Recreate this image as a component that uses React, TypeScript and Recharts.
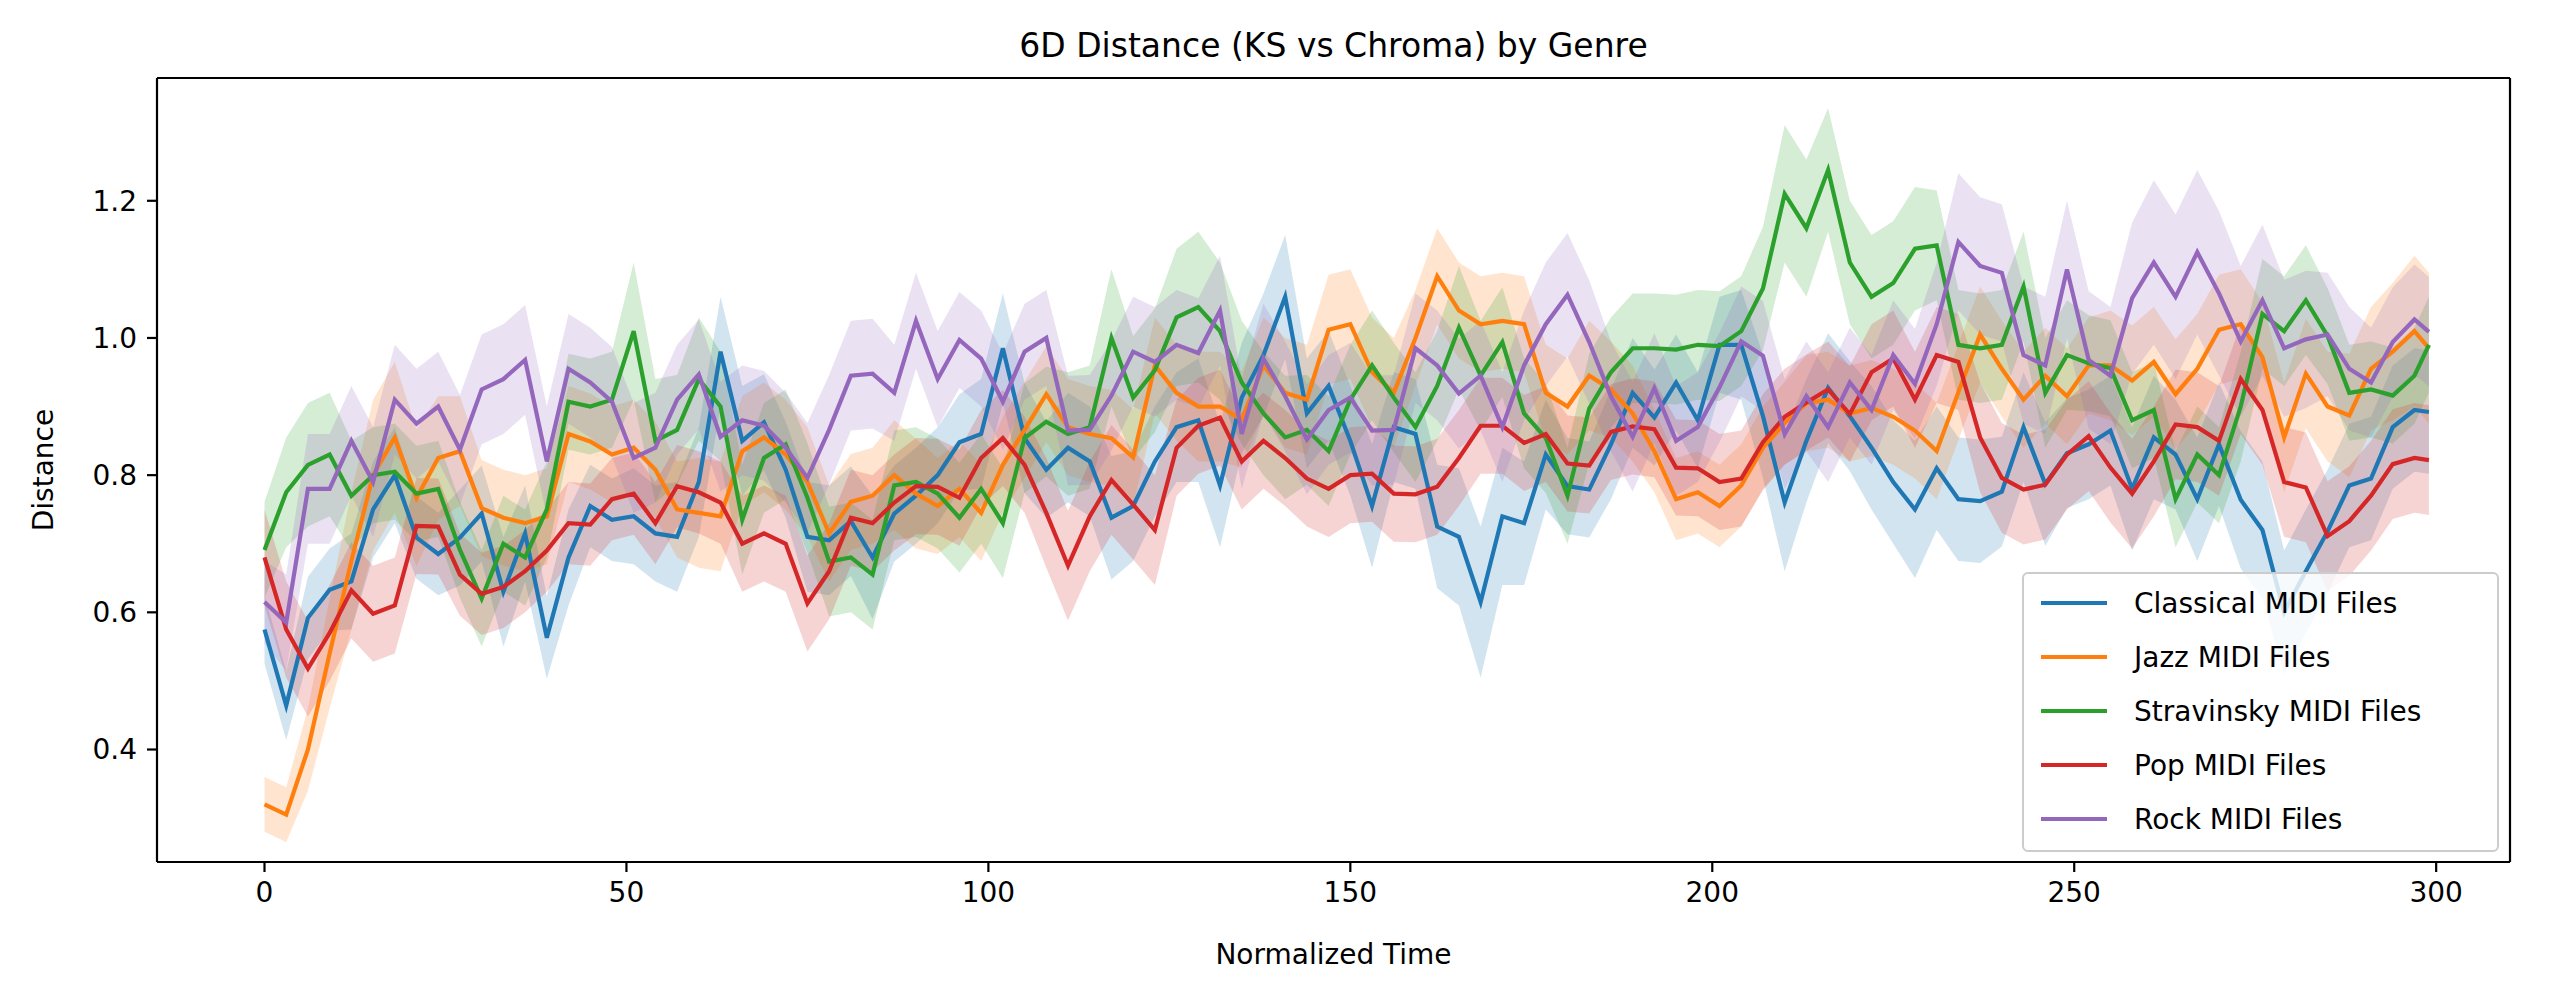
import React from 'react';
import { ComposedChart, Line, Area, XAxis, YAxis } from 'recharts';

// sampled every 3 steps of normalized time, plus the last step
const TIMES = Array.from({ length: 100 }, (_, i) => i * 3).concat(299);

const CLASSICAL = [
  0.575, 0.464, 0.592, 0.633, 0.645, 0.75, 0.8, 0.709, 0.685, 0.709, 0.744, 0.63, 0.715, 0.563, 0.68, 0.755, 0.735,
  0.74, 0.715, 0.71, 0.79, 0.98, 0.85, 0.877, 0.808, 0.71, 0.705, 0.733, 0.68, 0.744, 0.77, 0.8, 0.848, 0.86,
  0.985, 0.854, 0.808, 0.84, 0.82, 0.738, 0.755, 0.82, 0.87, 0.88, 0.785, 0.913, 0.975, 1.06, 0.89, 0.93,
  0.85, 0.755, 0.87, 0.86, 0.725, 0.71, 0.615, 0.74, 0.73, 0.83, 0.784, 0.779, 0.845, 0.92, 0.884, 0.935, 0.88,
  0.99, 0.99, 0.886, 0.76, 0.85, 0.927, 0.886, 0.84, 0.79, 0.75, 0.81, 0.765, 0.762, 0.776, 0.87, 0.787, 0.832,
  0.845, 0.865, 0.78, 0.855, 0.83, 0.765, 0.845, 0.764, 0.72, 0.6, 0.66, 0.718, 0.785, 0.795, 0.87, 0.895,
  0.892,
];
const JAZZ = [
  0.32, 0.305, 0.4, 0.54, 0.675, 0.8, 0.855, 0.767, 0.825, 0.835, 0.752, 0.738, 0.73, 0.74, 0.86, 0.849, 0.83,
  0.84, 0.808, 0.75, 0.745, 0.74, 0.835, 0.855, 0.83, 0.79, 0.715, 0.761, 0.77, 0.8, 0.773, 0.755, 0.78, 0.745,
  0.815, 0.866, 0.918, 0.87, 0.86, 0.854, 0.826, 0.96, 0.92, 0.9, 0.9, 0.881, 0.96, 0.92, 0.91, 1.012,
  1.02, 0.95, 0.92, 1.0, 1.09, 1.04, 1.02, 1.025, 1.02, 0.92, 0.9, 0.945, 0.925, 0.89, 0.835, 0.765, 0.775,
  0.755, 0.785, 0.84, 0.876, 0.905, 0.91, 0.89, 0.898, 0.885, 0.865, 0.835, 0.921, 1.005, 0.955, 0.91, 0.945, 0.915,
  0.96, 0.96, 0.938, 0.965, 0.918, 0.955, 1.012, 1.02, 0.972, 0.855, 0.948, 0.9, 0.887, 0.955, 0.98, 1.01,
  0.985,
];
const STRAVINSKY = [
  0.691, 0.775, 0.815, 0.83, 0.77, 0.8, 0.805, 0.773, 0.78, 0.691, 0.62, 0.7, 0.68, 0.75, 0.907, 0.9, 0.91,
  1.01, 0.85, 0.866, 0.94, 0.9, 0.735, 0.825, 0.845, 0.767, 0.674, 0.68, 0.655, 0.785, 0.79, 0.773, 0.738, 0.78,
  0.73, 0.854, 0.878, 0.86, 0.87, 1.0, 0.913, 0.953, 1.03, 1.045, 1.01, 0.935, 0.89, 0.855, 0.866, 0.835,
  0.91, 0.96, 0.913, 0.87, 0.93, 1.015, 0.945, 0.994, 0.89, 0.854, 0.77, 0.897, 0.95, 0.985, 0.985, 0.983, 0.99,
  0.988, 1.01, 1.072, 1.21, 1.16, 1.245, 1.11, 1.06, 1.08, 1.13, 1.135, 0.99, 0.985, 0.99, 1.075, 0.92, 0.975,
  0.963, 0.956, 0.88, 0.895, 0.765, 0.83, 0.8, 0.9, 1.035, 1.01, 1.055, 1.003, 0.92, 0.925, 0.916, 0.945,
  0.99,
];
const POP = [
  0.68, 0.575, 0.518, 0.57, 0.632, 0.598, 0.61, 0.726, 0.725, 0.655, 0.627, 0.637, 0.66, 0.69, 0.73, 0.728, 0.765,
  0.773, 0.73, 0.784, 0.775, 0.76, 0.7, 0.715, 0.7, 0.613, 0.66, 0.738, 0.73, 0.76, 0.784, 0.783, 0.767, 0.825,
  0.854, 0.815, 0.745, 0.668, 0.74, 0.793, 0.757, 0.72, 0.84, 0.872, 0.884, 0.82, 0.85, 0.825, 0.795, 0.78,
  0.8, 0.802, 0.773, 0.772, 0.783, 0.825, 0.872, 0.872, 0.847, 0.86, 0.817, 0.814, 0.863, 0.871, 0.867, 0.811, 0.81,
  0.79, 0.795, 0.848, 0.885, 0.906, 0.925, 0.889, 0.95, 0.97, 0.91, 0.975, 0.965, 0.855, 0.796, 0.779, 0.786, 0.83,
  0.857, 0.811, 0.773, 0.82, 0.874, 0.87, 0.85, 0.94, 0.895, 0.79, 0.782, 0.711, 0.733, 0.77, 0.816, 0.825,
  0.822,
];
const ROCK = [
  0.615, 0.585, 0.78, 0.78, 0.85, 0.79, 0.91, 0.875, 0.9, 0.837, 0.925, 0.94, 0.968, 0.82, 0.955, 0.935, 0.907,
  0.825, 0.84, 0.91, 0.947, 0.856, 0.88, 0.872, 0.84, 0.796, 0.866, 0.945, 0.948, 0.92, 1.025, 0.94, 0.997, 0.97,
  0.907, 0.98, 1.0, 0.865, 0.866, 0.916, 0.98, 0.965, 0.99, 0.978, 1.04, 0.86, 0.97, 0.915, 0.852, 0.895,
  0.913, 0.865, 0.866, 0.985, 0.96, 0.919, 0.945, 0.87, 0.96, 1.02, 1.063, 0.994, 0.915, 0.856, 0.927, 0.85, 0.87,
  0.928, 0.995, 0.974, 0.86, 0.915, 0.87, 0.935, 0.895, 0.975, 0.933, 1.02, 1.14, 1.105, 1.095, 0.975, 0.96, 1.1,
  0.968, 0.945, 1.058, 1.11, 1.06, 1.125, 1.065, 0.995, 1.055, 0.985, 0.998, 1.005, 0.955, 0.935, 0.994, 1.027,
  1.009,
];

// half-width of the shaded band around each mean line
const CLASSICAL_SD = [
  0.05, 0.05, 0.06, 0.06, 0.07, 0.07, 0.07, 0.06, 0.06, 0.07, 0.07, 0.08, 0.07, 0.06, 0.07, 0.06, 0.06,
  0.07, 0.07, 0.08, 0.08, 0.08, 0.08, 0.07, 0.07, 0.08, 0.08, 0.08, 0.09, 0.07, 0.07, 0.07, 0.07, 0.08,
  0.08, 0.08, 0.07, 0.08, 0.08, 0.09, 0.08, 0.08, 0.08, 0.09, 0.09, 0.08, 0.09, 0.09, 0.08, 0.08,
  0.08, 0.09, 0.08, 0.08, 0.09, 0.1, 0.11, 0.1, 0.09, 0.08, 0.07, 0.07, 0.08, 0.08, 0.07, 0.07, 0.07,
  0.07, 0.08, 0.09, 0.1, 0.09, 0.08, 0.08, 0.09, 0.09, 0.1, 0.09, 0.09, 0.09, 0.08, 0.08, 0.09, 0.08,
  0.08, 0.08, 0.09, 0.09, 0.08, 0.09, 0.09, 0.1, 0.1, 0.09, 0.09, 0.09, 0.09, 0.09, 0.09, 0.09,
  0.09,
];
const JAZZ_SD = [
  0.04, 0.04, 0.06, 0.08, 0.1, 0.11, 0.11, 0.1, 0.09, 0.08, 0.07, 0.07, 0.07, 0.07, 0.07, 0.07, 0.07,
  0.07, 0.07, 0.07, 0.08, 0.08, 0.08, 0.08, 0.08, 0.08, 0.07, 0.07, 0.07, 0.08, 0.08, 0.07, 0.07, 0.07,
  0.07, 0.07, 0.07, 0.07, 0.07, 0.07, 0.07, 0.07, 0.07, 0.08, 0.08, 0.07, 0.07, 0.08, 0.08, 0.08,
  0.08, 0.08, 0.08, 0.07, 0.07, 0.07, 0.07, 0.07, 0.07, 0.07, 0.07, 0.08, 0.07, 0.07, 0.06, 0.06, 0.06,
  0.06, 0.06, 0.06, 0.06, 0.07, 0.07, 0.07, 0.07, 0.07, 0.07, 0.07, 0.07, 0.07, 0.07, 0.07, 0.07, 0.07,
  0.07, 0.08, 0.08, 0.08, 0.08, 0.08, 0.08, 0.08, 0.08, 0.08, 0.08, 0.08, 0.09, 0.09, 0.1, 0.11,
  0.11,
];
const STRAVINSKY_SD = [
  0.07, 0.08, 0.09, 0.09, 0.08, 0.07, 0.07, 0.07, 0.07, 0.07, 0.07, 0.07, 0.07, 0.07, 0.07, 0.07, 0.07,
  0.1, 0.09, 0.08, 0.09, 0.08, 0.08, 0.08, 0.08, 0.08, 0.08, 0.08, 0.08, 0.08, 0.08, 0.08, 0.08, 0.08,
  0.08, 0.08, 0.08, 0.09, 0.09, 0.1, 0.09, 0.09, 0.1, 0.11, 0.1, 0.09, 0.09, 0.09, 0.08, 0.08,
  0.08, 0.08, 0.08, 0.08, 0.08, 0.09, 0.08, 0.08, 0.08, 0.08, 0.07, 0.08, 0.08, 0.08, 0.08, 0.08, 0.08,
  0.08, 0.08, 0.09, 0.1, 0.1, 0.09, 0.09, 0.09, 0.09, 0.09, 0.08, 0.08, 0.08, 0.08, 0.08, 0.08, 0.08,
  0.07, 0.07, 0.07, 0.07, 0.07, 0.07, 0.07, 0.08, 0.08, 0.08, 0.08, 0.07, 0.07, 0.07, 0.07, 0.07,
  0.07,
];
const POP_SD = [
  0.07, 0.07, 0.07, 0.07, 0.07, 0.07, 0.07, 0.07, 0.07, 0.06, 0.06, 0.06, 0.06, 0.06, 0.06, 0.06, 0.06,
  0.06, 0.06, 0.06, 0.06, 0.06, 0.07, 0.07, 0.07, 0.07, 0.07, 0.07, 0.07, 0.07, 0.07, 0.07, 0.07, 0.07,
  0.07, 0.07, 0.08, 0.08, 0.08, 0.08, 0.08, 0.08, 0.07, 0.07, 0.07, 0.07, 0.07, 0.07, 0.07, 0.07,
  0.07, 0.07, 0.07, 0.07, 0.07, 0.07, 0.07, 0.07, 0.07, 0.07, 0.07, 0.07, 0.07, 0.07, 0.07, 0.07, 0.07,
  0.07, 0.07, 0.07, 0.07, 0.07, 0.07, 0.07, 0.07, 0.07, 0.07, 0.07, 0.07, 0.08, 0.08, 0.08, 0.08, 0.08,
  0.08, 0.08, 0.08, 0.08, 0.08, 0.08, 0.08, 0.08, 0.08, 0.08, 0.08, 0.08, 0.08, 0.08, 0.08, 0.08,
  0.08,
];
const ROCK_SD = [
  0.06, 0.07, 0.08, 0.08, 0.08, 0.08, 0.08, 0.08, 0.08, 0.08, 0.08, 0.08, 0.08, 0.08, 0.08, 0.08, 0.08,
  0.08, 0.08, 0.08, 0.08, 0.08, 0.08, 0.08, 0.08, 0.08, 0.08, 0.08, 0.08, 0.07, 0.07, 0.07, 0.07, 0.07,
  0.07, 0.07, 0.07, 0.08, 0.08, 0.08, 0.08, 0.08, 0.08, 0.08, 0.08, 0.08, 0.08, 0.08, 0.08, 0.08,
  0.08, 0.08, 0.08, 0.08, 0.08, 0.08, 0.08, 0.08, 0.08, 0.09, 0.09, 0.09, 0.08, 0.08, 0.08, 0.08, 0.08,
  0.08, 0.08, 0.08, 0.08, 0.08, 0.08, 0.08, 0.08, 0.08, 0.08, 0.09, 0.1, 0.1, 0.1, 0.1, 0.1, 0.1,
  0.1, 0.1, 0.11, 0.12, 0.12, 0.12, 0.12, 0.11, 0.11, 0.1, 0.1, 0.09, 0.09, 0.08, 0.08, 0.08,
  0.08,
];

const X_TICKS = [0, 50, 100, 150, 200, 250, 300];
const Y_TICKS = [0.4, 0.6, 0.8, 1.0, 1.2];
const X_DOMAIN = [-14.85, 310.2];
const Y_DOMAIN = [0.236, 1.379];

const SERIES = [
  { key: 'classical', name: 'Classical MIDI Files', color: '#1f77b4', values: CLASSICAL, sd: CLASSICAL_SD },
  { key: 'jazz', name: 'Jazz MIDI Files', color: '#ff7f0e', values: JAZZ, sd: JAZZ_SD },
  { key: 'stravinsky', name: 'Stravinsky MIDI Files', color: '#2ca02c', values: STRAVINSKY, sd: STRAVINSKY_SD },
  { key: 'pop', name: 'Pop MIDI Files', color: '#d62728', values: POP, sd: POP_SD },
  { key: 'rock', name: 'Rock MIDI Files', color: '#9467bd', values: ROCK, sd: ROCK_SD },
];

const rows = TIMES.map((t, i) => {
  const row: Record<string, any> = { t };
  SERIES.forEach((s) => {
    row[s.key] = s.values[i];
    row[`${s.key}Band`] = [s.values[i] - s.sd[i], s.values[i] + s.sd[i]];
  });
  return row;
});

const FONT = '"DejaVu Sans", sans-serif';
const W = 2544;
const H = 986;
const tickStyle = { fontSize: 28, fill: '#000', fontFamily: FONT };

const App: React.FC = () => {
  return (
    <div style={{ position: 'relative', width: W, height: H, fontFamily: FONT, color: '#000' }}>
      <ComposedChart
        width={W}
        height={H}
        data={rows}
        margin={{ top: 69, right: 41, bottom: 72, left: 49 }}
        style={{ fontFamily: FONT }}
      >
        <XAxis
          dataKey="t"
          type="number"
          domain={X_DOMAIN}
          ticks={X_TICKS}
          allowDataOverflow
          height={60}
          tick={tickStyle}
          tickSize={10}
          tickMargin={10}
          stroke="#000"
          strokeWidth={2.2}
        />
        <XAxis
          xAxisId="top"
          dataKey="t"
          type="number"
          orientation="top"
          domain={X_DOMAIN}
          allowDataOverflow
          height={1}
          tick={false}
          tickLine={false}
          stroke="#000"
          strokeWidth={2.2}
        />
        <YAxis
          type="number"
          domain={Y_DOMAIN}
          ticks={Y_TICKS}
          allowDataOverflow
          width={100}
          tick={tickStyle}
          tickFormatter={(v: number) => v.toFixed(1)}
          tickSize={10}
          tickMargin={10}
          stroke="#000"
          strokeWidth={2.2}
        />
        <YAxis
          yAxisId="right"
          orientation="right"
          type="number"
          domain={Y_DOMAIN}
          allowDataOverflow
          width={1}
          tick={false}
          tickLine={false}
          stroke="#000"
          strokeWidth={2.2}
        />
        {SERIES.flatMap((s) => [
          <Area
            key={`${s.key}-band`}
            dataKey={`${s.key}Band`}
            type="linear"
            stroke="none"
            fill={s.color}
            fillOpacity={0.2}
            isAnimationActive={false}
            activeDot={false}
          />,
          <Line
            key={`${s.key}-line`}
            dataKey={s.key}
            type="linear"
            stroke={s.color}
            strokeWidth={4.2}
            dot={false}
            activeDot={false}
            isAnimationActive={false}
          />,
        ])}
      </ComposedChart>

      <div
        style={{
          position: 'absolute',
          left: 149,
          width: 2353,
          top: 21,
          fontSize: 33,
          lineHeight: '34px',
          textAlign: 'center',
        }}
      >
        6D Distance (KS vs Chroma) by Genre
      </div>
      <div
        style={{
          position: 'absolute',
          left: 149,
          width: 2353,
          top: 932,
          fontSize: 28,
          lineHeight: '30px',
          textAlign: 'center',
        }}
      >
        Normalized Time
      </div>
      <div
        style={{
          position: 'absolute',
          left: 36,
          top: 462,
          fontSize: 28,
          lineHeight: '30px',
          whiteSpace: 'nowrap',
          transform: 'translate(-50%, -50%) rotate(-90deg)',
        }}
      >
        Distance
      </div>

      <div
        style={{
          position: 'absolute',
          left: 2014,
          top: 564,
          width: 477,
          boxSizing: 'border-box',
          padding: '2px 0 4px 0',
          background: 'rgba(255,255,255,0.8)',
          border: '2.5px solid #cccccc',
          borderRadius: 6,
        }}
      >
        {SERIES.map((s) => (
          <div key={s.key} style={{ display: 'flex', alignItems: 'center', height: 54 }}>
            <div style={{ width: 66, height: 4, marginLeft: 17, background: s.color }} />
            <span style={{ marginLeft: 27, fontSize: 28, whiteSpace: 'nowrap' }}>{s.name}</span>
          </div>
        ))}
      </div>
    </div>
  );
};

export default App;
